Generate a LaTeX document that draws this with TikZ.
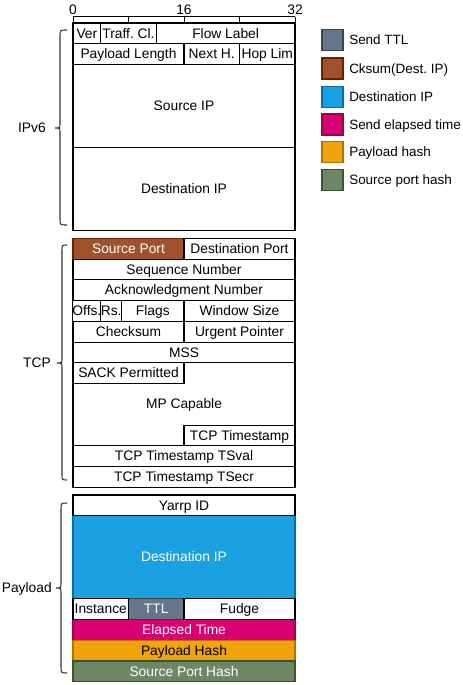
\documentclass[tikz,border=0pt]{standalone}
\usepackage{fontspec}
\setmainfont{Liberation Sans}
\frenchspacing
\definecolor{ttlF}{HTML}{647687}\definecolor{ttlD}{HTML}{314354}
\definecolor{ckF}{HTML}{A0522D}\definecolor{ckD}{HTML}{6D1F00}
\definecolor{dstF}{HTML}{1BA1E2}\definecolor{dstD}{HTML}{006EAF}
\definecolor{elF}{HTML}{D80073}\definecolor{elD}{HTML}{A50040}
\definecolor{phF}{HTML}{F0A30A}\definecolor{phD}{HTML}{BD7000}
\definecolor{spF}{HTML}{6D8764}\definecolor{spD}{HTML}{3A5431}
\tikzset{
  cellst/.style={draw=black, line width=0.8pt, inner sep=0pt, outer sep=0pt,
    font=\fontsize{10.35}{12}\selectfont, fill=white, text height=0.7em, text depth=0pt},
  ttlc/.style={fill=ttlF, draw=ttlD, text=white},
  ckc/.style={fill=ckF, draw=ckD, text=white},
  dstc/.style={fill=dstF, draw=dstD, text=white},
  elc/.style={fill=elF, draw=elD, text=white},
  phc/.style={fill=phF, draw=phD, text=black},
  spc/.style={fill=spF, draw=spD, text=white},
  legbox/.style={line width=0.85pt, minimum width=15.75pt, minimum height=15.75pt, inner sep=0pt},
  legtxt/.style={anchor=west, inner sep=0pt, font=\fontsize{10.1}{12}\selectfont, text height=0.7em, text depth=0pt},
  lbl/.style={anchor=east, inner sep=0pt, font=\fontsize{10.35}{12}\selectfont, text height=0.7em, text depth=0pt},
  rulenum/.style={anchor=base, inner sep=0pt, font=\fontsize{10.35}{12}\selectfont},
  rulest/.style={line width=0.75pt},
  bracest/.style={line width=0.8pt, draw=black!80}
}
\newcommand\cellbox[7]{\node[cellst,#6,minimum width={(#4-#2)*0.75pt},minimum height={(#5-#3)*0.75pt}] (#1) at ({(#2+#4)/2},{(#3+#5)/2}) {#7};}
\newcommand\curlybr[4]{\draw[bracest] (67,#2) .. controls (#1,#2) .. (#1,{#2+6}) -- (#1,{#3-5}) .. controls (#1,#3) .. ({#1-5},#3) .. controls (#1,#3) .. (#1,{#3+5}) -- (#1,{#4-6}) .. controls (#1,#4) .. (67,#4);}
\begin{document}
\begin{tikzpicture}[x=0.75pt,y=-0.75pt]
\useasboundingbox (0,0) rectangle (462,685);
% ruler
\coordinate (r0) at (73,17);
\coordinate (r32) at (295,17);
\draw[rulest] (r0) -- (r32);
\foreach \xx in {73,128.5,184,239.5,295} {\draw[rulest] (\xx,17) -- (\xx,23);}
\node[rulenum] (n0) at (73,15) {0};
\node[rulenum] (n16) at (184,15) {16};
\node[rulenum] (n32) at (295,15) {32};
% IPv6
\cellbox{ver}{73}{23}{100.75}{43.75}{}{Ver}
\cellbox{tc}{100.75}{23}{156.25}{43.75}{}{Traff. Cl.}
\cellbox{fl}{156.25}{23}{295}{43.75}{}{Flow Label}
\cellbox{plen}{73}{43.75}{184}{64.5}{}{Payload Length}
\cellbox{nh}{184}{43.75}{239.5}{64.5}{}{Next H.}
\cellbox{hl}{239.5}{43.75}{295}{64.5}{}{Hop Lim}
\cellbox{sip}{73}{64.5}{295}{147.5}{}{Source IP}
\cellbox{dip}{73}{147.5}{295}{230.5}{}{Destination IP}
% TCP
\cellbox{sport}{73}{238.3}{184}{259.05}{ckc}{Source Port}
\cellbox{dport}{184}{238.3}{295}{259.05}{}{Destination Port}
\cellbox{seq}{73}{259.05}{295}{279.8}{}{Sequence Number}
\cellbox{ack}{73}{279.8}{295}{300.55}{}{Acknowledgment Number}
\cellbox{offs}{73}{300.55}{100.75}{321.3}{}{Offs.}
\cellbox{rs}{100.75}{300.55}{121.6}{321.3}{}{Rs.}
\cellbox{flags}{121.6}{300.55}{184}{321.3}{}{Flags}
\cellbox{win}{184}{300.55}{295}{321.3}{}{Window Size}
\cellbox{csum}{73}{321.3}{184}{342.05}{}{Checksum}
\cellbox{urg}{184}{321.3}{295}{342.05}{}{Urgent Pointer}
\cellbox{mss}{73}{342.05}{295}{362.8}{}{MSS}
\cellbox{mp}{73}{362.8}{295}{445.8}{}{MP Capable}
\cellbox{sack}{73}{362.8}{184}{383.55}{}{SACK Permitted}
\cellbox{tcpts}{184}{425.05}{295}{445.8}{}{TCP Timestamp}
\cellbox{tsval}{73}{445.8}{295}{466.55}{}{TCP Timestamp TSval}
\cellbox{tsecr}{73}{466.55}{295}{487.3}{}{TCP Timestamp TSecr}
% Payload
\cellbox{pdest}{73}{515.75}{295}{598.75}{dstc}{Destination IP}
\cellbox{ttl}{128.5}{598.75}{184}{619.5}{ttlc}{TTL}
\cellbox{elapsed}{73}{619.5}{295}{640.25}{elc}{Elapsed Time}
\cellbox{phash}{73}{640.25}{295}{661}{phc}{Payload Hash}
\cellbox{sphash}{73}{661}{295}{681.75}{spc}{Source Port Hash}
\cellbox{yarrp}{73}{495}{295}{515.75}{}{Yarrp ID}
\cellbox{inst}{73}{598.75}{128.5}{619.5}{}{Instance}
\cellbox{fudge}{184}{598.75}{295}{619.5}{}{Fudge}
% braces and labels
\curlybr{60}{30}{128}{225}
\curlybr{62}{245}{363}{480}
\curlybr{61}{503}{588}{673}
\node[lbl] (lipv6) at (46,128) {IPv6};
\node[lbl] (ltcp) at (51,363) {TCP};
\node[lbl] (lpay) at (52,588) {Payload};
% legend
\node[legbox, fill=ttlF, draw=ttlD] (k1) at (332.5,40) {};
\node[legbox, fill=ckF, draw=ckD] (k2) at (332.5,68.5) {};
\node[legbox, fill=dstF, draw=dstD] (k3) at (332.5,97) {};
\node[legbox, fill=elF, draw=elD] (k4) at (332.5,124.5) {};
\node[legbox, fill=phF, draw=phD] (k5) at (332.5,152) {};
\node[legbox, fill=spF, draw=spD] (k6) at (332.5,180) {};
\node[legtxt] (t1) at (349,40) {Send TTL};
\node[legtxt] (t2) at (349,68.5) {Cksum(Dest. IP)};
\node[legtxt] (t3) at (349,97) {Destination IP};
\node[legtxt] (t4) at (349,124.5) {Send elapsed time};
\node[legtxt] (t5) at (349,152) {Payload hash};
\node[legtxt] (t6) at (349,180) {Source port hash};
\end{tikzpicture}
\end{document}
